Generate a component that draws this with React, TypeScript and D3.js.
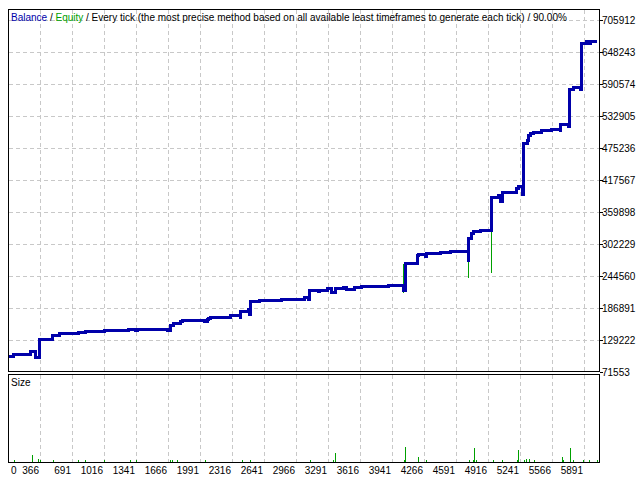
import React from 'react';
import * as d3 from 'd3';

const balanceTrades = [41, 92, 264, 322, 359, 488, 559, 752, 823, 1016, 1260, 1331, 1351, 1656, 1686, 1717, 1788, 1808, 2032, 2059, 2072, 2093, 2296, 2397, 2404, 2481, 2491, 2498, 2590, 2820, 3047, 3088, 3098, 3189, 3199, 3278, 3328, 3362, 3446, 3474, 3555, 3626, 3903, 4056, 4070, 4192, 4208, 4276, 4293, 4428, 4530, 4710, 4716, 4750, 4767, 4835, 4946, 5021, 5038, 5055, 5200, 5224, 5268, 5274, 5309, 5325, 5342, 5376, 5461, 5562, 5647, 5654, 5729, 5745, 5782, 5850, 5867, 5918, 5944, 5951, 6022];
const balanceValues = [99500, 102200, 108100, 96800, 131000, 137700, 141300, 143600, 144900, 146000, 148500, 147200, 149000, 147200, 155700, 159300, 162900, 164000, 162900, 166500, 168800, 170600, 172500, 169400, 180900, 183300, 175500, 199500, 201300, 203100, 205400, 202200, 219300, 216900, 219300, 221700, 214500, 221700, 223500, 221100, 223500, 225300, 227100, 218100, 266200, 281900, 283000, 280600, 284800, 286500, 288400, 271600, 312500, 321500, 323900, 326200, 386400, 389300, 379700, 394700, 402600, 405500, 391800, 483700, 489600, 498600, 501700, 503500, 505900, 508200, 506400, 516700, 513600, 581000, 584600, 579800, 663900, 666300, 663900, 666800, 666800];

const equitySpikeTrades = [254, 349, 3081, 4050, 4184, 4705, 4743, 4942, 5190, 5264, 5651, 5724];
const equitySpikeFrom = [102200, 108100, 204000, 214500, 266200, 288400, 312500, 326200, 394700, 405500, 508200, 513600];
const equitySpikeTo = [108100, 131000, 219300, 266200, 281900, 241500, 321500, 250500, 402600, 390000, 516700, 581000];

const sizeTrades = [95, 282, 343, 366, 491, 749, 816, 1013, 1273, 1338, 1686, 1707, 1757, 2042, 2414, 2499, 3108, 3335, 3362, 4063, 4073, 4205, 4286, 4716, 4757, 4767, 4794, 4960, 5051, 5207, 5213, 5281, 5298, 5332, 5383, 5664, 5670, 5749, 5772, 5878, 5942, 6020];
const sizeLots = [0.07, 0.42, 0.18, 0.07, 0.07, 0.13, 0.07, 0.07, 0.07, 0.07, 0.07, 0.07, 0.07, 0.07, 0.07, 0.07, 0.07, 0.07, 0.55, 0.07, 1.0, 0.27, 0.07, 0.07, 0.07, 0.93, 0.07, 0.07, 0.07, 0.07, 0.77, 0.07, 0.17, 0.17, 0.07, 0.27, 0.07, 0.93, 0.13, 0.13, 0.1, 0.07];

const yTickValues = [71553, 129222, 186891, 244560, 302229, 359898, 417567, 475236, 532905, 590574, 648243, 705912];
const xTickValues = [366, 691, 1016, 1341, 1666, 1991, 2316, 2641, 2966, 3291, 3616, 3941, 4266, 4591, 4916, 5241, 5566, 5891];

const legendBalance = 'Balance';
const legendEquity = 'Equity';
const legendRest = ' / Every tick (the most precise method based on all available least timeframes to generate each tick) / 90.00%';

const BLUE = '#0000AA';
const GREEN = '#00A000';
const GRID = '#C8C8C8';
const FONT = '"Liberation Sans", Arial, sans-serif';

export default function App() {
  const left = 8.5, right = 599.5, mainTop = 9.5, mainBottom = 371.5, subTop = 374.5, subBottom = 462.5;
  const x = d3.scaleLinear().domain([43, 6045]).range([left, right]);
  const y = d3.scaleLinear().domain([71553, 705912]).range([372, 20]);
  const ySize = d3.scaleLinear().domain([0, 5.8]).range([461.5, 375]);

  const balancePts: [number, number][] = balanceTrades.map((t, i) => [t, balanceValues[i]]);
  const line = d3.line<[number, number]>().x(d => x(d[0])).y(d => y(d[1])).curve(d3.curveStepAfter);

  const gx = (t: number) => Math.round(x(t)) + 0.5;
  const gy = (v: number) => Math.round(y(v)) + 0.5;

  return (
    <svg width={640} height={480} style={{ position: 'absolute', left: 0, top: 0, background: '#fff' }} fontFamily={FONT}>
      <rect x={0} y={0} width={640} height={480} fill="#fff" />
      {/* vertical grid lines */}
      {xTickValues.map(t => (
        <g key={'vg' + t}>
          <line x1={gx(t)} x2={gx(t)} y1={mainTop} y2={mainBottom} stroke={GRID} strokeDasharray="4,3" shapeRendering="crispEdges" />
          <line x1={gx(t)} x2={gx(t)} y1={subTop} y2={subBottom} stroke={GRID} strokeDasharray="4,3" shapeRendering="crispEdges" />
        </g>
      ))}
      {/* horizontal grid lines */}
      {yTickValues.filter(v => y(v) < mainBottom - 1).map(v => (
        <line key={'hg' + v} x1={left} x2={right} y1={gy(v)} y2={gy(v)} stroke={GRID} strokeDasharray="4,3" shapeRendering="crispEdges" />
      ))}
      {/* equity spikes */}
      {equitySpikeTrades.map((t, i) => (
        <line key={'eq' + i} x1={gx(t)} x2={gx(t)} y1={y(equitySpikeFrom[i])} y2={y(equitySpikeTo[i])} stroke={GREEN} strokeWidth={1} shapeRendering="crispEdges" />
      ))}
      {/* balance line */}
      <path d={line(balancePts) || ''} fill="none" stroke={BLUE} strokeWidth={3} shapeRendering="crispEdges" />
      {/* size bars */}
      {sizeTrades.map((t, i) => {
        const top = Math.min(ySize(sizeLots[i]), 460.5);
        return <rect key={'sz' + i} x={Math.round(x(t))} y={top} width={1} height={461.5 - top} fill={GREEN} shapeRendering="crispEdges" />;
      })}
      {/* panel borders */}
      <rect x={left} y={mainTop} width={right - left} height={mainBottom - mainTop} fill="none" stroke="#000" strokeWidth={1} shapeRendering="crispEdges" />
      <rect x={left} y={subTop} width={right - left} height={subBottom - subTop} fill="none" stroke="#000" strokeWidth={1} shapeRendering="crispEdges" />
      {/* right axis ticks and labels */}
      {yTickValues.map(v => (
        <g key={'yl' + v}>
          <line x1={right} x2={right + 3} y1={gy(v)} y2={gy(v)} stroke="#000" shapeRendering="crispEdges" />
          <text x={602} y={y(v) + 3.5} fontSize={10} fill="#000">{v}</text>
        </g>
      ))}
      {/* bottom labels */}
      <text x={11} y={474} fontSize={10} fill="#000">0</text>
      {xTickValues.map(t => (
        <text key={'xl' + t} x={gx(t) - 1.5} y={474} fontSize={10} textAnchor="end" fill="#000">{t}</text>
      ))}
      {/* legend */}
      <text x={11} y={21} fontSize={10} fill="#000">
        <tspan fill={BLUE}>{legendBalance}</tspan>
        <tspan fill="#000"> / </tspan>
        <tspan fill={GREEN}>{legendEquity}</tspan>
        <tspan fill="#000">{legendRest}</tspan>
      </text>
      <text x={11} y={386} fontSize={10} fill="#000">Size</text>
    </svg>
  );
}
